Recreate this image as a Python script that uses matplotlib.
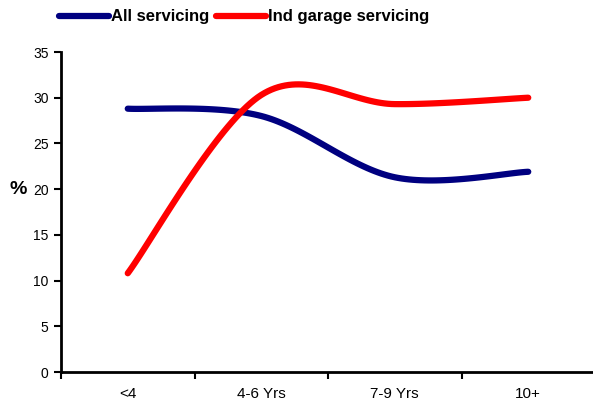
import matplotlib.pyplot as plt
import numpy as np

categories = ['<4', '4-6 Yrs', '7-9 Yrs', '10+']
all_servicing = [28.8, 28.0, 21.3, 21.9]
ind_garage = [10.8, 30.3, 29.3, 30.0]


def smooth(xs, ys, n=40):
    # bezier smoothing like the spreadsheet "smoothed line" option
    p = np.column_stack([xs, ys]).astype(float)
    out = []
    for i in range(len(p) - 1):
        p0 = p[max(i - 1, 0)]
        p1 = p[i]
        p2 = p[i + 1]
        p3 = p[min(i + 2, len(p) - 1)]
        c1 = p1 + (p2 - p0) / 6.0
        c2 = p2 - (p3 - p1) / 6.0
        t = np.linspace(0, 1, n)[:, None]
        seg = ((1 - t) ** 3) * p1 + 3 * ((1 - t) ** 2) * t * c1 \
            + 3 * (1 - t) * t ** 2 * c2 + t ** 3 * p2
        out.append(seg)
    out = np.vstack(out)
    return out[:, 0], out[:, 1]


plt.rcParams['font.family'] = ['Liberation Sans', 'DejaVu Sans']

fig = plt.figure(figsize=(5.93, 4.05), dpi=100)
ax = fig.add_axes([61 / 593, 33 / 405, 534 / 593, 320 / 405])

x = np.arange(len(categories))
sx, sy = smooth(x, all_servicing)
ax.plot(sx, sy, color='#000080', lw=4.5, solid_capstyle='round', label='All servicing')
sx, sy = smooth(x, ind_garage)
ax.plot(sx, sy, color='#FF0000', lw=4.5, solid_capstyle='round', label='Ind garage servicing')

ax.set_xlim(-0.5, 3.5)
ax.set_ylim(0, 35)
ax.set_yticks(np.arange(0, 36, 5))
ax.set_xticks(np.arange(-0.5, 4, 1))
ax.set_xticks(x, minor=True)
ax.set_xticklabels([])
ax.set_xticklabels(categories, minor=True)
ax.tick_params(axis='x', which='minor', length=0, pad=11, labelsize=11)
ax.tick_params(axis='x', which='major', length=5, width=1.5, direction='out')
ax.tick_params(axis='y', length=5, width=1.5, direction='out', labelsize=10, pad=4)

for s in ['top', 'right']:
    ax.spines[s].set_visible(False)
for s in ['left', 'bottom']:
    ax.spines[s].set_linewidth(2)

fig.text(18 / 593, 1 - 190 / 405, '%', fontsize=14, fontweight='bold', ha='center', va='center')

fig.legend(loc='center left', bbox_to_anchor=(59 / 593, 1 - 17 / 405), ncol=2, frameon=False,
           prop={'weight': 'bold', 'size': 12}, handlelength=3.0, handletextpad=0.12,
           columnspacing=0.4, borderaxespad=0, borderpad=0)

fig.savefig('out.png', dpi=100)
